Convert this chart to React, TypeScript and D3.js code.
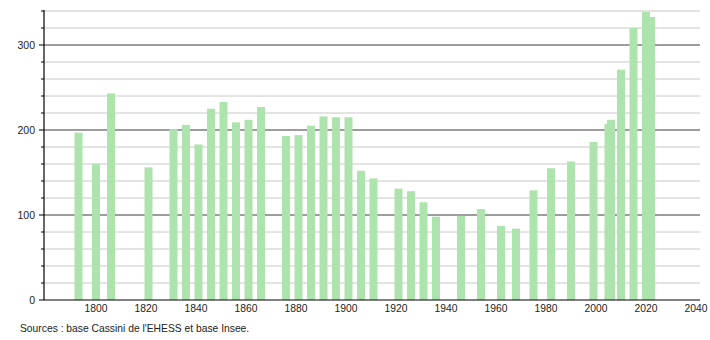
import React from "react";
import * as d3 from "d3";

const years = [1793, 1800, 1806, 1821, 1831, 1836, 1841, 1846, 1851, 1856, 1861, 1866, 1876, 1881, 1886, 1891, 1896, 1901, 1906, 1911, 1921, 1926, 1931, 1936, 1946, 1954, 1962, 1968, 1975, 1982, 1990, 1999, 2005, 2006, 2010, 2015, 2020, 2022];
const population = [197, 160, 243, 156, 201, 206, 183, 225, 233, 209, 212, 227, 193, 194, 205, 216, 215, 215, 152, 143, 131, 128, 115, 98, 99, 107, 87, 84, 129, 155, 163, 186, 207, 212, 271, 320, 339, 333];
const xTicks = [1800, 1820, 1840, 1860, 1880, 1900, 1920, 1940, 1960, 1980, 2000, 2020, 2040];
const yMajor = [0, 100, 200, 300];
const yMinor = d3.range(20, 341, 20).filter((v) => v % 100 !== 0);
const source = "Sources : base Cassini de l'EHESS et base Insee.";

export default function App() {
  const W = 710, H = 340;
  const left = 44, right = 700, top = 10, bottom = 300;
  const xs = d3.scaleLinear().domain([1800, 2040]).range([96, 696]);
  const ys = d3.scaleLinear().domain([0, 100]).range([bottom, bottom - 85]);
  const barW = 8;
  const font = "'Liberation Sans', Arial, sans-serif";
  return (
    <svg width={W} height={H} style={{ position: "absolute", left: 0, top: 0 }} fontFamily={font}>
      <rect x={0} y={0} width={W} height={H} fill="#fff" />
      {yMinor.map((v) => (
        <g key={"m" + v}>
          <line x1={left} x2={right} y1={ys(v)} y2={ys(v)} stroke="#c8c8c8" strokeWidth={1} />
          <line x1={left - 3} x2={left} y1={ys(v)} y2={ys(v)} stroke="#000" strokeWidth={1} />
        </g>
      ))}
      {yMajor.filter((v) => v > 0).map((v) => (
        <line key={"M" + v} x1={left} x2={right} y1={ys(v)} y2={ys(v)} stroke="#3a3a3a" strokeWidth={1} />
      ))}
      {years.map((yr, i) => (
        <rect key={yr} x={xs(yr) - barW / 2} y={ys(population[i])} width={barW} height={bottom - ys(population[i])} fill="#ade3ad" />
      ))}
      <line x1={left} x2={right} y1={bottom} y2={bottom} stroke="#000" strokeWidth={1.2} />
      <line x1={left} x2={left} y1={top} y2={bottom} stroke="#000" strokeWidth={1.2} />
      {yMajor.map((v) => (
        <g key={"t" + v}>
          <line x1={left - 5} x2={left} y1={ys(v)} y2={ys(v)} stroke="#000" strokeWidth={1} />
          <text x={left - 9} y={ys(v)} dy="0.35em" textAnchor="end" fontSize={10.5} fill="#222">{v}</text>
        </g>
      ))}
      {xTicks.map((t) => (
        <text key={t} x={xs(t)} y={312} textAnchor="middle" fontSize={10.3} fill="#222">{t}</text>
      ))}
      <text x={20} y={332} fontSize={10.3} fill="#222">{source}</text>
    </svg>
  );
}
